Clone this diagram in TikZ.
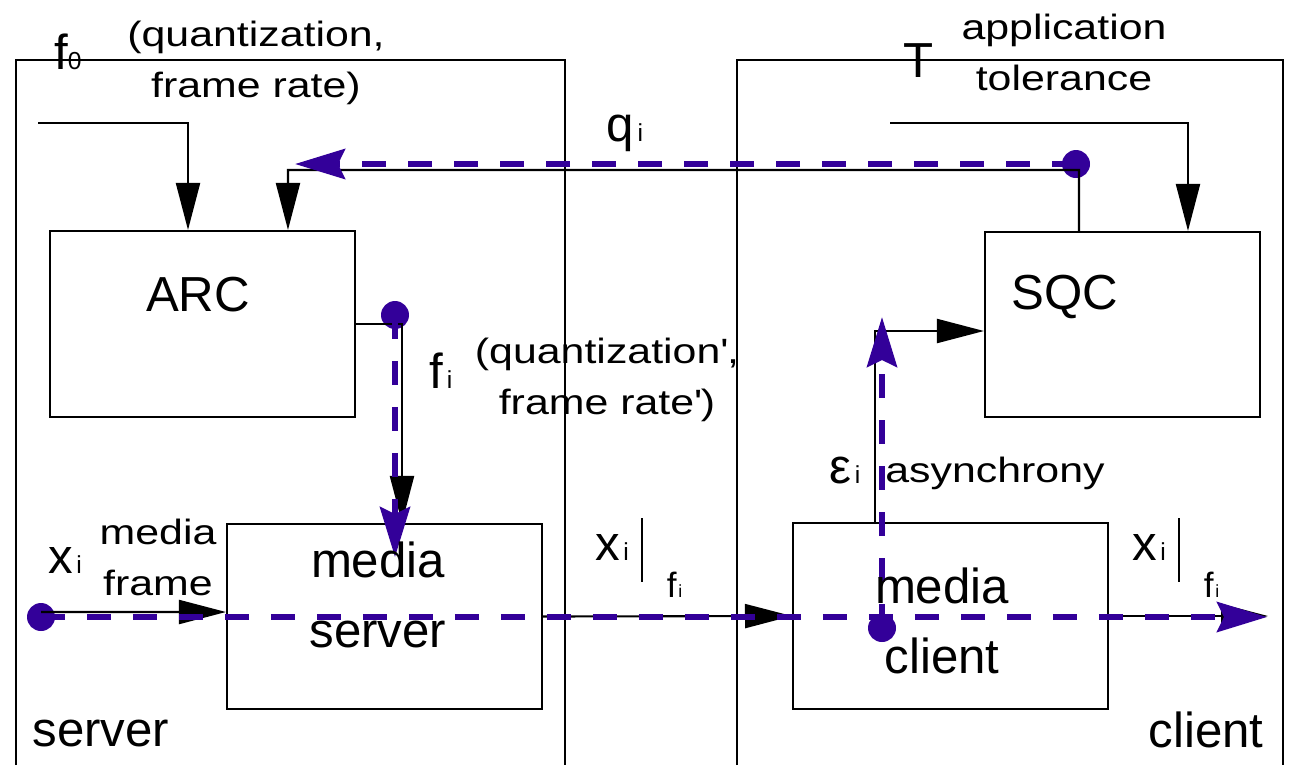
\documentclass[tikz,border=0pt]{standalone}
\usepackage{fontspec}
\setmainfont{Liberation Sans}
\newfontfamily\lblfont{Liberation Sans}[FakeStretch=1.22]
\usepackage{tikz}
\usetikzlibrary{arrows.meta}
\usepackage{xcolor}
\definecolor{flowblue}{RGB}{51,0,153}
\newcommand{\idx}[1]{{\fontsize{14pt}{14pt}\selectfont #1}}
\newcommand{\restr}{x\kern2pt\idx{i}\kern6.8pt\rule[-12.5pt]{1.2pt}{36.3pt}\kern13.6pt\raisebox{-21.5pt}{\fontsize{20pt}{20pt}\selectfont f\kern1pt{\fontsize{10pt}{10pt}\selectfont i}}}

\begin{document}
\begin{tikzpicture}[x=0.02cm, y=-0.02cm,
  frame/.style={line width=1.2pt},
  block/.style={draw, line width=1.2pt, inner sep=0pt},
  ctrl/.style={line width=1.2pt, -{Triangle[length=0.94cm, width=0.48cm]}},
  flow/.style={flowblue, line width=0.12cm, dash pattern=on 0.48cm off 0.44cm,
    -{Stealth[length=1.0cm, width=0.6cm, inset=0.14cm]}},
  dot/.style={circle, fill=flowblue, inner sep=0pt, minimum size=0.56cm},
  lbl/.style={font=\lblfont\fontsize{20pt}{29pt}\selectfont},
  sym/.style={font=\fontsize{28pt}{30pt}\selectfont},
  boxtext/.style={font=\fontsize{28pt}{40pt}\selectfont}]

  \useasboundingbox (0,0) rectangle (1289,765);

  % server and client frames
  \draw[frame] (16,765) |- (565,60) -- (565,765);
  \draw[frame] (737,765) |- (1283,60) -- (1283,765);

  % Define coordinates for nodes
  \node[block, minimum width=6.1cm, minimum height=3.72cm] (arc) at (202.5,324) {};
  \node[block, minimum width=5.5cm, minimum height=3.7cm] (sqc) at (1122.5,324.5) {};
  \node[block, minimum width=6.3cm, minimum height=3.7cm] (mserver) at (384.5,616.5) {};
  \node[block, minimum width=6.3cm, minimum height=3.72cm] (mclient) at (950.5,616) {};

  \node[dot] (qdot) at (1076,164) {};
  \node[dot] (fidot) at (395,315) {};
  \node[dot] (epsdot) at (882,628) {};
  \node[dot] (xdot) at (41,617) {};

  \coordinate (f0in) at (38,123);
  \coordinate (tin) at (890,123);
  \coordinate (qtap) at (1079,170);
  \coordinate (qtip) at (295,164);
  \coordinate (fitip) at (395,557);
  \coordinate (epstip) at (882,317);
  \coordinate (xin) at (41,612);
  \coordinate (xout) at (1268,616);
  \coordinate (xtip) at (1267,617);

  % Draw arrows between nodes
  \draw[ctrl] (f0in) -| ([xshift=-0.29cm]arc.north);
  \draw[ctrl] (tin) -| ([xshift=1.31cm]sqc.north);
  \draw[ctrl] ([xshift=-0.87cm]sqc.north) -- (qtap) -| ([xshift=1.71cm]arc.north);
  \draw[ctrl] (arc.east) -| ([xshift=0.35cm]mserver.north);
  \draw[ctrl] ([xshift=-1.51cm]mclient.north) |- ([yshift=-0.13cm]sqc.west);
  \draw[ctrl] (xin) -- ([yshift=0.09cm]mserver.west);
  \draw[ctrl] (mserver.east) -- (mclient.west);
  \draw[ctrl] (mclient.east) -- (xout);

  % measured paths
  \draw[flow] (qdot.center) -- (qtip);
  \draw[flow] (fidot.center) -- (fitip);
  \draw[flow] (epsdot.center) -- (epstip);
  \draw[flow] (xdot.center) -- (xtip);

  % labels
  \node[boxtext] (arclbl) at (198,295) {ARC};
  \node[boxtext] (sqclbl) at (1065,297) {SQC};
  \node[boxtext, align=center] (mserverlbl) at (378,595) {media\\server};
  \node[boxtext, align=center] (mclientlbl) at (942,621) {media\\client};
  \node[boxtext] (serverlbl) at (101,733) {server};
  \node[boxtext] (clientlbl) at (1206,730) {client};

  \node[sym] (f0lbl) at (68,52) {f\idx{0}};
  \node[lbl, align=center] (f0text) at (256,63) {(quantization,\\frame rate)};
  \node[sym] (qlbl) at (625,133) {q\kern2pt\idx{i}};
  \node[sym] (tlbl) at (919,61) {T};
  \node[lbl, align=center] (ttext) at (1064,52) {application\\tolerance};
  \node[sym] (filbl) at (441,371) {f\kern2pt\idx{i}};
  \node[lbl, align=center] (fitext) at (607,380) {(quantization\textquotesingle,\\frame rate\textquotesingle)};
  \node[sym] (xlbl) at (65,560) {x\kern2pt\idx{i}};
  \node[lbl, align=center] (xtext) at (158,557) {media\\frame};
  \node[sym] (epslbl) at (845,470) {ε\kern2pt\idx{i}};
  \node[lbl] (epstext) at (995,473) {asynchrony};
  \node[sym, anchor=base west, inner sep=0pt] (xfa) at (595,560) {\restr};
  \node[sym, anchor=base west, inner sep=0pt] (xfb) at (1132,560) {\restr};
\end{tikzpicture}
\end{document}
